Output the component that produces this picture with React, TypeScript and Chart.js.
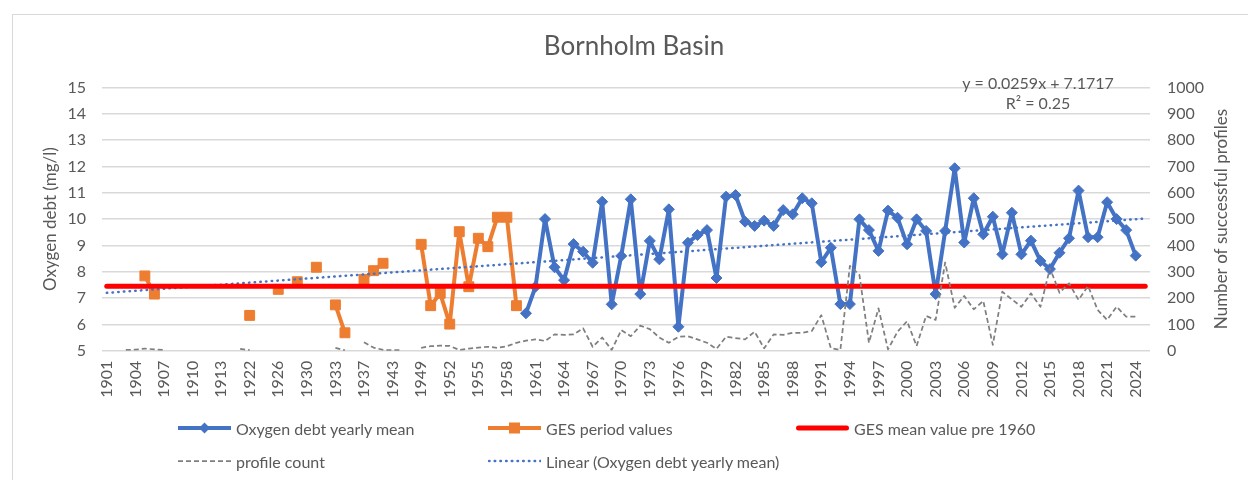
import React, { useEffect, useRef } from 'react';
import { Chart, registerables } from 'chart.js';

Chart.register(...registerables);

// ---------- DATA ----------
const categories: number[] = [
  1901, 1902, 1903, 1904, 1905, 1906, 1907, 1908, 1909, 1910, 1911, 1912, 1913,
  1914, 1921, 1922, 1924, 1925, 1926, 1927, 1929, 1930, 1931, 1932, 1933, 1934,
  1936, 1937, 1938, 1939, 1943, 1947, 1948,
  1949, 1950, 1951, 1952, 1953, 1954, 1955, 1956, 1957, 1958, 1959,
  1960, 1961, 1962, 1963, 1964, 1965, 1966, 1967, 1968, 1969,
  1970, 1971, 1972, 1973, 1974, 1975, 1976, 1977, 1978, 1979,
  1980, 1981, 1982, 1983, 1984, 1985, 1986, 1987, 1988, 1989,
  1990, 1991, 1992, 1993, 1994, 1995, 1996, 1997, 1998, 1999,
  2000, 2001, 2002, 2003, 2004, 2005, 2006, 2007, 2008, 2009,
  2010, 2011, 2012, 2013, 2014, 2015, 2016, 2017, 2018, 2019,
  2020, 2021, 2022, 2023, 2024, 2025,
];

const oxygenStartYear = 1960;
const oxygenMean: number[] = [
  6.42, 7.43, 10.0, 8.17, 7.68, 9.05, 8.76, 8.34, 10.66, 6.76,
  8.6, 10.75, 7.15, 9.17, 8.47, 10.37, 5.91, 9.1, 9.39, 9.58,
  7.76, 10.85, 10.91, 9.9, 9.74, 9.94, 9.74, 10.34, 10.18, 10.79,
  10.6, 8.36, 8.91, 6.77, 6.77, 9.99, 9.58, 8.79, 10.32, 10.05,
  9.04, 9.99, 9.55, 7.15, 9.55, 11.93, 9.11, 10.79, 9.42, 10.09,
  8.66, 10.24, 8.66, 9.18, 8.41, 8.1, 8.72, 9.27, 11.08, 9.31,
  9.31, 10.64, 10.0, 9.58, 8.61,
];

const gesYears: number[] = [
  1905, 1906, 1922, 1926, 1929, 1931, 1933, 1934, 1937, 1938, 1939,
  1949, 1950, 1951, 1952, 1953, 1954, 1955, 1956, 1957, 1958, 1959,
];
const gesValues: number[] = [
  7.84, 7.15, 6.34, 7.33, 7.62, 8.17, 6.74, 5.68, 7.71, 8.04, 8.32,
  9.04, 6.71, 7.18, 6.01, 9.52, 7.43, 9.27, 8.95, 10.07, 10.07, 6.71,
];

const gesMeanPre1960 = 7.45;

const profileEarlyYears: number[] = [1903, 1904, 1905, 1906, 1907, 1921, 1922, 1933, 1934, 1937, 1938, 1939, 1943, 1947];
const profileEarlyValues: number[] = [3, 4, 8, 5, 3, 7, 2, 11, 1, 32, 12, 3, 2, 2];
const profileStartYear = 1949;
const profileCount: number[] = [
  11, 17, 19, 18, 3, 8, 12, 15, 11, 17, 30,
  38, 43, 37, 62, 60, 62, 85, 15, 50, 3,
  78, 55, 95, 82, 50, 30, 53, 55, 43, 30,
  7, 53, 48, 43, 72, 9, 62, 60, 68, 68,
  75, 135, 10, 3, 322, 288, 30, 161, 5, 72,
  112, 18, 132, 117, 335, 163, 208, 157, 189, 22,
  224, 195, 167, 218, 167, 313, 220, 256, 193, 246,
  155, 117, 167, 129, 129,
];

// Trendline as printed on the chart
const trendSlope = 0.0259;
const trendIntercept = 7.1717;
const trendLabel = 'y = 0.0259x + 7.1717';
const r2Label = 'R² = 0.25';

const yTicksLeft = { min: 5, max: 15, step: 1 };
const yTicksRight = { min: 0, max: 1000, step: 100 };

// ---------- STYLE ----------
const FONT = 'Lato, "Open Sans", "Liberation Sans", sans-serif';
const TEXT = '#595959';
const BLUE = '#4472C4';
const ORANGE = '#ED7D31';
const RED = '#FF0000';
const GRAY = '#7F7F7F';

const oxygenSeries = categories.map((y) => {
  const k = y - oxygenStartYear;
  return k >= 0 && k < oxygenMean.length ? oxygenMean[k] : null;
});
const gesSeries = categories.map((y) => {
  const k = gesYears.indexOf(y);
  return k >= 0 ? gesValues[k] : null;
});
const gesMeanSeries = categories.map(() => gesMeanPre1960);
const profileSeries = categories.map((y) => {
  const e = profileEarlyYears.indexOf(y);
  if (e >= 0) return profileEarlyValues[e];
  const k = y - profileStartYear;
  return k >= 0 && k < profileCount.length ? profileCount[k] : null;
});
const trendSeries = categories.map((_, i) => trendSlope * (i + 1) + trendIntercept);

const overlayText = {
  id: 'overlayText',
  afterDraw(chart: any) {
    const { ctx, chartArea } = chart;
    ctx.save();
    ctx.fillStyle = TEXT;
    ctx.textAlign = 'center';
    ctx.textBaseline = 'middle';
    ctx.font = `16px ${FONT}`;
    ctx.fillText(trendLabel, chartArea.right - 112, chartArea.top - 4);
    ctx.fillText(r2Label, chartArea.right - 112, chartArea.top + 16);
    ctx.translate(chartArea.right + 72, (chartArea.top + chartArea.bottom) / 2);
    ctx.rotate(-Math.PI / 2);
    ctx.font = `17px ${FONT}`;
    ctx.fillText('Number of successful profiles', 0, 0);
    ctx.restore();
  },
};

type LegendItem = { label: string; kind: 'diamond' | 'square' | 'thick' | 'dash' | 'dot'; color: string };
const legendRows: LegendItem[][] = [
  [
    { label: 'Oxygen debt yearly mean', kind: 'diamond', color: BLUE },
    { label: 'GES period values', kind: 'square', color: ORANGE },
    { label: 'GES mean value pre 1960', kind: 'thick', color: RED },
  ],
  [
    { label: 'profile count', kind: 'dash', color: GRAY },
    { label: 'Linear (Oxygen debt yearly mean)', kind: 'dot', color: BLUE },
  ],
];

function Symbol({ item }: { item: LegendItem }) {
  const w = 53;
  const h = 16;
  const c = h / 2;
  let line: any = null;
  let marker: any = null;
  if (item.kind === 'diamond') {
    line = <line x1={0} y1={c} x2={w} y2={c} stroke={item.color} strokeWidth={4} />;
    marker = <polygon points={`${w / 2 - 5.5},${c} ${w / 2},${c - 5.5} ${w / 2 + 5.5},${c} ${w / 2},${c + 5.5}`} fill={item.color} />;
  } else if (item.kind === 'square') {
    line = <line x1={0} y1={c} x2={w} y2={c} stroke={item.color} strokeWidth={4} />;
    marker = <rect x={w / 2 - 5.5} y={c - 5.5} width={11} height={11} fill={item.color} />;
  } else if (item.kind === 'thick') {
    line = <line x1={2.5} y1={c} x2={w - 2.5} y2={c} stroke={item.color} strokeWidth={5} strokeLinecap="round" />;
  } else if (item.kind === 'dash') {
    line = <line x1={0} y1={c} x2={w} y2={c} stroke={item.color} strokeWidth={1.75} strokeDasharray="5 3" />;
  } else {
    line = <line x1={1} y1={c} x2={w} y2={c} stroke={item.color} strokeWidth={2.5} strokeDasharray="0.5 5.2" strokeLinecap="round" />;
  }
  return (
    <svg width={w} height={h} style={{ display: 'block' }}>
      {line}
      {marker}
    </svg>
  );
}

export default function App() {
  const ref = useRef<HTMLCanvasElement>(null);

  useEffect(() => {
    const tickFont = { family: FONT, size: 16 };
    const chart = new Chart(ref.current as HTMLCanvasElement, {
      type: 'line',
      data: {
        labels: categories.map(String),
        datasets: [
          {
            label: 'Oxygen debt yearly mean',
            data: oxygenSeries,
            borderColor: BLUE,
            backgroundColor: BLUE,
            borderWidth: 4,
            borderJoinStyle: 'round',
            borderCapStyle: 'round',
            pointStyle: 'rectRot',
            pointRadius: 5.5,
            pointBorderWidth: 1,
            pointBackgroundColor: BLUE,
            pointBorderColor: BLUE,
            spanGaps: false,
            yAxisID: 'y',
            order: 5,
          },
          {
            label: 'GES period values',
            data: gesSeries,
            borderColor: ORANGE,
            backgroundColor: ORANGE,
            borderWidth: 4,
            borderJoinStyle: 'round',
            borderCapStyle: 'round',
            pointStyle: 'rect',
            pointRadius: 7,
            pointBorderWidth: 1,
            pointBackgroundColor: ORANGE,
            pointBorderColor: ORANGE,
            spanGaps: false,
            yAxisID: 'y',
            order: 4,
          },
          {
            label: 'GES mean value pre 1960',
            data: gesMeanSeries,
            borderColor: RED,
            backgroundColor: RED,
            borderWidth: 5,
            borderCapStyle: 'round',
            pointRadius: 0,
            yAxisID: 'y',
            order: 2,
          },
          {
            label: 'profile count',
            data: profileSeries,
            borderColor: GRAY,
            backgroundColor: GRAY,
            borderWidth: 1.75,
            borderDash: [5, 3],
            borderJoinStyle: 'round',
            pointRadius: 0,
            spanGaps: false,
            yAxisID: 'y1',
            order: 1,
          },
          {
            label: 'Linear (Oxygen debt yearly mean)',
            data: trendSeries,
            borderColor: BLUE,
            backgroundColor: BLUE,
            borderWidth: 2.5,
            borderDash: [0.5, 5.2],
            borderCapStyle: 'round',
            pointRadius: 0,
            yAxisID: 'y',
            order: 3,
          },
        ],
      },
      options: {
        responsive: false,
        animation: false,
        events: [],
        layout: { padding: 0 },
        plugins: {
          legend: { display: false },
          tooltip: { enabled: false },
          title: {
            display: true,
            text: 'Bornholm Basin',
            color: TEXT,
            font: { family: FONT, size: 26, weight: 'normal', lineHeight: 1.2 },
            padding: { top: 17.4, bottom: 24.8 },
          },
        },
        scales: {
          x: {
            type: 'category',
            offset: true,
            grid: { display: false, drawTicks: false },
            border: { display: false },
            ticks: {
              autoSkip: false,
              minRotation: 90,
              maxRotation: 90,
              padding: 10,
              color: TEXT,
              font: tickFont,
              callback: (_v: any, i: number) => (i % 3 === 0 ? String(categories[i]) : ''),
            },
            afterFit: (s: any) => {
              s.height = 129.3;
            },
          },
          y: {
            position: 'left',
            min: yTicksLeft.min,
            max: yTicksLeft.max,
            ticks: { stepSize: yTicksLeft.step, padding: 16, color: TEXT, font: tickFont, callback: (v: any) => String(v) },
            grid: { color: '#d9d9d9', lineWidth: 1.5, drawTicks: false },
            border: { display: false },
            title: {
              display: true,
              text: 'Oxygen debt (mg/l)',
              color: TEXT,
              font: { family: FONT, size: 17 },
              padding: { top: 28, bottom: 0 },
            },
            afterFit: (s: any) => {
              s.width = 90;
            },
          },
          y1: {
            position: 'right',
            min: yTicksRight.min,
            max: yTicksRight.max,
            ticks: { stepSize: yTicksRight.step, padding: 17, color: TEXT, font: tickFont, callback: (v: any) => String(v) },
            grid: { display: false, drawTicks: false },
            border: { display: false },
            afterFit: (s: any) => {
              s.width = 106;
            },
          },
        },
      } as any,
      plugins: [overlayText],
    });
    return () => chart.destroy();
  }, []);

  const colX = [178, 488, 796];
  const rowY = [428, 461];

  return (
    <div style={{ position: 'fixed', left: 0, top: 0, width: 1248, height: 480, overflow: 'hidden', background: '#fff' }}>
      <div
        style={{
          position: 'absolute',
          left: 12,
          top: 14,
          width: 1260,
          height: 480,
          border: '1px solid #d9d9d9',
          boxSizing: 'border-box',
        }}
      />
      <canvas ref={ref} width={1244} height={466} style={{ position: 'absolute', left: 12, top: 14, width: 1244, height: 466 }} />
      {legendRows.map((row, r) =>
        row.map((item, c) => (
          <div
            key={`${r}-${c}`}
            style={{
              position: 'absolute',
              left: colX[c],
              top: rowY[r] - 11,
              height: 22,
              display: 'flex',
              alignItems: 'center',
              gap: 5,
              fontFamily: FONT,
              fontSize: 16,
              color: TEXT,
              whiteSpace: 'nowrap',
            }}
          >
            <Symbol item={item} />
            <span>{item.label}</span>
          </div>
        ))
      )}
    </div>
  );
}
